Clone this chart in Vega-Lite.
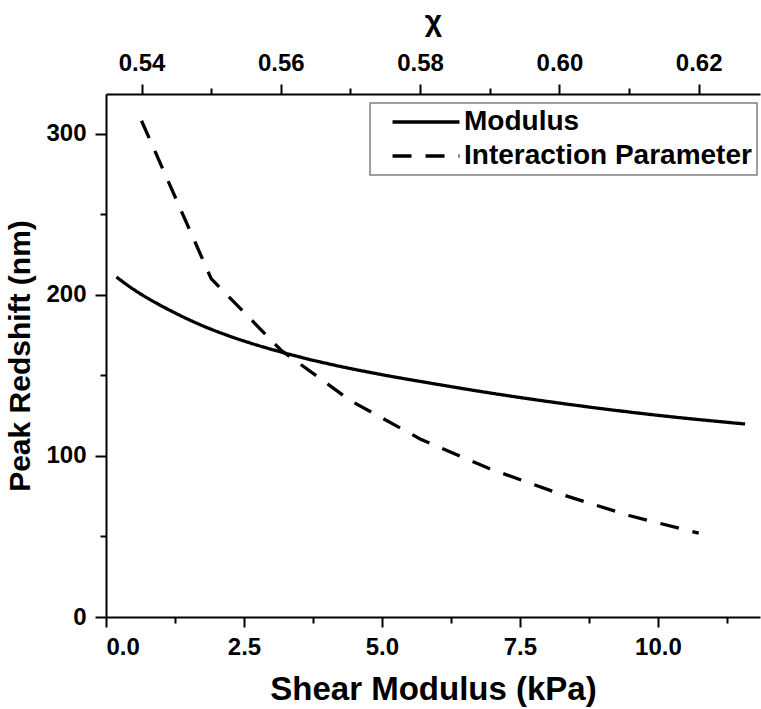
{
  "$schema": "https://vega.github.io/schema/vega-lite/v6.json",
  "width": 654,
  "height": 523,
  "autosize": {"type": "none"},
  "padding": {"left": 106, "top": 94, "right": 1, "bottom": 92},
  "background": "white",
  "config": {
    "view": {"stroke": null},
    "font": "Liberation Sans",
    "axis": {
      "grid": false,
      "domainColor": "black",
      "domainWidth": 2,
      "tickColor": "black",
      "tickWidth": 2,
      "labelColor": "black",
      "titleColor": "black",
      "labelFont": "Liberation Sans",
      "labelFontWeight": "bold",
      "labelFontSize": 24,
      "titleFont": "Liberation Sans",
      "titleFontWeight": "bold",
      "titleFontSize": 32
    },
    "legend": {
      "orient": "none",
      "legendX": 264,
      "legendY": 9,
      "strokeColor": "#808080",
      "strokeWidth": 1.5,
      "fillColor": "white",
      "padding": 5,
      "symbolType": "M-4,0H4",
      "symbolSize": 280,
      "symbolOffset": 37,
      "symbolStrokeWidth": 3.3,
      "symbolStrokeColor": "black",
      "symbolFillColor": "transparent",
      "labelFont": "Liberation Sans",
      "labelFontWeight": "bold",
      "labelFontSize": 28,
      "labelColor": "black",
      "labelOffset": 24,
      "labelLimit": 400,
      "rowPadding": 6
    }
  },
  "datasets": {
    "modulus": [
      {"G": 0.19, "shift": 211, "series": "Modulus"},
      {"G": 0.5, "shift": 203.3, "series": "Modulus"},
      {"G": 0.8, "shift": 197, "series": "Modulus"},
      {"G": 1.2, "shift": 189.6, "series": "Modulus"},
      {"G": 1.7, "shift": 181.5, "series": "Modulus"},
      {"G": 2.2, "shift": 174.8, "series": "Modulus"},
      {"G": 2.6, "shift": 170.2, "series": "Modulus"},
      {"G": 3.2, "shift": 164.2, "series": "Modulus"},
      {"G": 3.6, "shift": 160.6, "series": "Modulus"},
      {"G": 4.1, "shift": 156.6, "series": "Modulus"},
      {"G": 5.0, "shift": 150.4, "series": "Modulus"},
      {"G": 5.9, "shift": 145, "series": "Modulus"},
      {"G": 7.1, "shift": 138.3, "series": "Modulus"},
      {"G": 8.6, "shift": 131, "series": "Modulus"},
      {"G": 10.1, "shift": 124.8, "series": "Modulus"},
      {"G": 11.58, "shift": 119.8, "series": "Modulus"}
    ],
    "interaction": [
      {"chi": 0.54, "shift": 308, "series": "Interaction Parameter"},
      {"chi": 0.55, "shift": 210, "series": "Interaction Parameter"},
      {"chi": 0.56, "shift": 165.7, "series": "Interaction Parameter"},
      {"chi": 0.57, "shift": 134.3, "series": "Interaction Parameter"},
      {"chi": 0.58, "shift": 110.5, "series": "Interaction Parameter"},
      {"chi": 0.59, "shift": 92, "series": "Interaction Parameter"},
      {"chi": 0.60, "shift": 76.5, "series": "Interaction Parameter"},
      {"chi": 0.61, "shift": 63, "series": "Interaction Parameter"},
      {"chi": 0.62, "shift": 52, "series": "Interaction Parameter"}
    ]
  },
  "layer": [
    {
      "data": {"name": "modulus"},
      "mark": {"type": "line", "color": "black", "strokeWidth": 3.3, "interpolate": "monotone"},
      "encoding": {
        "x": {
          "field": "G",
          "type": "quantitative",
          "scale": {"domain": [0, 11.85], "nice": false, "zero": false},
          "axis": {
            "orient": "bottom",
            "title": "Shear Modulus (kPa)",
            "titleFontSize": 33,
            "values": [0, 1.25, 2.5, 3.75, 5, 6.25, 7.5, 8.75, 10, 11.25],
            "labelExpr": "datum.value % 2.5 === 0 ? format(datum.value, '.1f') : ''",
            "tickSize": {"condition": {"test": "datum.value % 2.5 === 0", "value": 10}, "value": 6},
            "labelPadding": 8,
            "titlePadding": 14
          }
        },
        "y": {
          "field": "shift",
          "type": "quantitative",
          "scale": {"domain": [0, 324.6], "nice": false},
          "axis": {
            "title": "Peak Redshift (nm)",
            "titleFontSize": 30,
            "values": [0, 50, 100, 150, 200, 250, 300],
            "labelExpr": "datum.value % 100 === 0 ? format(datum.value, 'd') : ''",
            "tickSize": {"condition": {"test": "datum.value % 100 === 0", "value": 11}, "value": 6},
            "labelPadding": 9,
            "titlePadding": 10
          }
        },
        "strokeDash": {
          "field": "series",
          "type": "nominal",
          "scale": {"domain": ["Modulus", "Interaction Parameter"], "range": [[1, 0], [19, 14]]},
          "legend": {"title": null}
        }
      }
    },
    {
      "data": {"name": "interaction"},
      "mark": {"type": "line", "color": "black", "strokeWidth": 3.3},
      "encoding": {
        "x": {
          "field": "chi",
          "type": "quantitative",
          "scale": {"domain": [0.5349, 0.6288], "nice": false, "zero": false},
          "axis": {
            "orient": "top",
            "title": "χ",
            "values": [0.54, 0.55, 0.56, 0.57, 0.58, 0.59, 0.60, 0.61, 0.62],
            "labelExpr": "round(datum.value * 100) % 2 === 0 ? format(datum.value, '.2f') : ''",
            "tickSize": {"condition": {"test": "round(datum.value * 100) % 2 === 0", "value": 10}, "value": 6},
            "labelPadding": 9,
            "titlePadding": 15,
            "titleFontSize": 30
          }
        },
        "y": {"field": "shift", "type": "quantitative"},
        "strokeDash": {"field": "series", "type": "nominal"}
      }
    }
  ],
  "resolve": {"scale": {"x": "independent"}}
}
